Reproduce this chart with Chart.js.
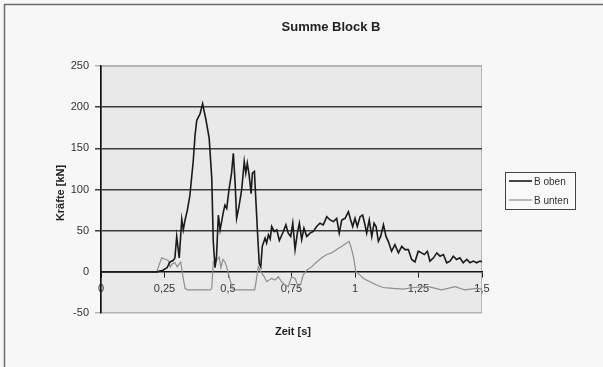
<!DOCTYPE html>
<html>
<head>
<meta charset="utf-8">
<script src="https://cdn.jsdelivr.net/npm/chart.js@4/dist/chart.umd.min.js"></script>
<style>
  html, body { margin: 0; padding: 0; background: #f7f7f7; }
  #wrap { width: 603px; height: 367px; position: relative; }
</style>
</head>
<body>
<div id="wrap"><canvas id="myChart" width="603" height="367"></canvas></div>
<script>
// Werte (Zeit in s, Kraft in kN)
const zeitOben = [0, 0.22, 0.244, 0.26, 0.272, 0.285, 0.291, 0.298, 0.308, 0.318, 0.324, 0.331, 0.34, 0.35, 0.363,
  0.37, 0.377, 0.39, 0.40, 0.413, 0.426, 0.436, 0.442, 0.449, 0.455, 0.462, 0.469, 0.482, 0.488, 0.495,
  0.504, 0.514, 0.521, 0.528, 0.534, 0.543, 0.554, 0.564, 0.57, 0.576, 0.583, 0.591, 0.596, 0.604, 0.609,
  0.617, 0.623, 0.629, 0.635, 0.646, 0.652, 0.659, 0.666, 0.672, 0.682, 0.692, 0.702, 0.718, 0.728, 0.737,
  0.747, 0.755, 0.764, 0.773, 0.781, 0.79, 0.799, 0.81, 0.823, 0.836, 0.849, 0.862, 0.875, 0.889, 0.902,
  0.915, 0.928, 0.938, 0.948, 0.961, 0.974, 0.983, 0.991, 1.0, 1.009, 1.02, 1.03, 1.038, 1.046, 1.056,
  1.066, 1.075, 1.083, 1.092, 1.101, 1.112, 1.122, 1.131, 1.144, 1.157, 1.171, 1.184, 1.197, 1.21, 1.223,
  1.236, 1.249, 1.262, 1.273, 1.285, 1.295, 1.309, 1.322, 1.335, 1.348, 1.361, 1.374, 1.387, 1.40, 1.413,
  1.426, 1.44, 1.453, 1.466, 1.479, 1.492, 1.5];
const kraftOben = [0, 0, 2, 5, 12, 14, 17, 43, 17, 64, 51, 63, 75, 93, 134,
  165, 184, 192, 204, 185, 162, 114, 37, 5, 20, 69, 51, 73, 81, 77,
  100, 120, 144, 108, 65, 79, 100, 134, 120, 132, 118, 95, 120, 122, 91,
  43, 10, 6, 31, 41, 35, 45, 40, 55, 49, 51, 38, 49, 57, 47,
  43, 59, 27, 47, 59, 39, 53, 43, 47, 49, 55, 59, 57, 67, 63,
  61, 65, 47, 63, 65, 73, 63, 55, 65, 55, 67, 69, 59, 47, 63,
  43, 59, 55, 37, 43, 57, 43, 37, 25, 33, 23, 31, 27, 27, 15,
  12, 25, 23, 21, 25, 13, 17, 23, 19, 21, 11, 13, 19, 15, 17,
  11, 15, 11, 13, 11, 13, 12];

const zeitUnten = [0, 0.219, 0.239, 0.255, 0.264, 0.272, 0.282, 0.291, 0.30, 0.314, 0.322, 0.331, 0.34, 0.43,
  0.436, 0.442, 0.45, 0.458, 0.465, 0.472, 0.48, 0.488, 0.495, 0.508, 0.521, 0.605, 0.609, 0.619, 0.633,
  0.643, 0.652, 0.662, 0.672, 0.685, 0.698, 0.711, 0.724, 0.737, 0.75, 0.764, 0.777, 0.787, 0.796, 0.81,
  0.829, 0.849, 0.869, 0.889, 0.908, 0.928, 0.948, 0.967, 0.977, 0.987, 0.996, 1.003, 1.02, 1.033, 1.059,
  1.085, 1.11, 1.15, 1.19, 1.23, 1.289, 1.341, 1.394, 1.433, 1.479, 1.5];
const kraftUnten = [0, 0, 17, 15, 14, 6, 10, 11, 6, 12, -5, -20, -22, -22,
  -20, 12, 10, 15, 18, 5, 15, 12, 6, -10, -22, -22, -15, 6, -2,
  -6, -12, -10, -8, -10, -6, -12, -16, -18, -6, -8, -18, -14, -4, 2,
  6, 12, 17, 21, 23, 27, 31, 35, 37, 27, 15, 0, -4, -8, -12,
  -16, -19, -20, -21, -19, -18, -22, -18, -22, -20, -21];

const yTicks = [-50, 0, 50, 100, 150, 200, 250];
const xTicks = [0, 0.25, 0.5, 0.75, 1, 1.25, 1.5];

const FONT = '"Liberation Sans", Arial, sans-serif';

function toPoints(xs, ys) {
    return xs.map(function(x, i) { return { x: x, y: ys[i] }; });
}

// Hintergrund, Rahmen, Titel, Achsentitel, Legende
const extras = {
    id: 'extras',
    beforeDraw: function(chart) {
        const ctx = chart.ctx;
        const a = chart.chartArea;
        ctx.save();
        ctx.fillStyle = '#f7f7f7';
        ctx.fillRect(0, 0, chart.width, chart.height);
        ctx.fillStyle = '#e9e9e9';
        ctx.fillRect(a.left, a.top, a.right - a.left, a.bottom - a.top);
        ctx.strokeStyle = '#b4b4b4';
        ctx.lineWidth = 1;
        ctx.strokeRect(a.left + 0.5, a.top + 0.5, a.right - a.left - 1, a.bottom - a.top - 1);
        ctx.restore();
    },
    afterDraw: function(chart) {
        const ctx = chart.ctx;
        ctx.save();
        // äußerer Rahmen
        ctx.strokeStyle = '#6a6a6a';
        ctx.lineWidth = 1.5;
        ctx.beginPath();
        ctx.moveTo(4.5, chart.height);
        ctx.lineTo(4.5, 4.5);
        ctx.lineTo(chart.width, 4.5);
        ctx.stroke();

        ctx.fillStyle = '#222';
        ctx.textAlign = 'center';
        ctx.textBaseline = 'middle';
        ctx.font = 'bold 13px ' + FONT;
        ctx.fillText('Summe Block B', 331, 27);
        ctx.font = 'bold 11px ' + FONT;
        ctx.fillText('Zeit [s]', 293, 332);
        ctx.save();
        ctx.translate(61, 193);
        ctx.rotate(-Math.PI / 2);
        ctx.fillText('Kräfte [kN]', 0, 0);
        ctx.restore();

        // Legende
        ctx.fillStyle = '#f9f9f9';
        ctx.fillRect(505, 172, 70, 37);
        ctx.strokeStyle = '#444';
        ctx.lineWidth = 1;
        ctx.strokeRect(505.5, 172.5, 70, 37);
        const ds = chart.data.datasets;
        const rows = [181, 200];
        ctx.font = '10px ' + FONT;
        ctx.textAlign = 'left';
        for (let i = 0; i < ds.length; i++) {
            ctx.strokeStyle = ds[i].borderColor;
            ctx.lineWidth = ds[i].borderWidth;
            ctx.beginPath();
            ctx.moveTo(509, rows[i]);
            ctx.lineTo(532, rows[i]);
            ctx.stroke();
            ctx.fillStyle = '#333';
            ctx.fillText(ds[i].label, 534, rows[i] + 1);
        }
        ctx.restore();
    }
};

const ctx = document.getElementById('myChart').getContext('2d');
const myChart = new Chart(ctx, {
    type: 'line',
    data: {
        datasets: [{
            label: 'B oben',
            data: toPoints(zeitOben, kraftOben),
            borderColor: '#1a1a1a',
            borderWidth: 1.6,
            pointRadius: 0,
            tension: 0
        }, {
            label: 'B unten',
            data: toPoints(zeitUnten, kraftUnten),
            borderColor: '#8e8e8e',
            borderWidth: 1.2,
            pointRadius: 0,
            tension: 0
        }]
    },
    options: {
        responsive: false,
        animation: false,
        layout: { padding: { left: 0, right: 121, top: 66, bottom: 54 } },
        plugins: {
            legend: { display: false },
            title: { display: false },
            tooltip: { enabled: false }
        },
        scales: {
            x: {
                type: 'linear',
                position: { y: 0 },
                min: 0,
                max: 1.5,
                afterBuildTicks: function(scale) {
                    scale.ticks = xTicks.map(function(v) { return { value: v }; });
                },
                ticks: {
                    color: '#333',
                    font: { family: FONT, size: 11 },
                    padding: 6,
                    maxRotation: 0,
                    callback: function(v) { return String(v).replace('.', ','); }
                },
                grid: { drawOnChartArea: false, tickLength: 5, color: '#222', lineWidth: 1 },
                border: { color: '#111', width: 1.6 }
            },
            y: {
                min: -50,
                max: 250,
                afterBuildTicks: function(scale) {
                    scale.ticks = yTicks.map(function(v) { return { value: v }; });
                },
                afterFit: function(scale) { scale.width = 101; },
                ticks: {
                    color: '#333',
                    font: { family: FONT, size: 11 },
                    padding: 6
                },
                grid: {
                    tickLength: 6,
                    color: function(c) {
                        const v = c.tick ? c.tick.value : 0;
                        if (v === 250 || v === -50) return '#b4b4b4';
                        if (v === 0) return 'rgba(0,0,0,0)';
                        return '#3c3c3c';
                    },
                    lineWidth: 1.5
                },
                border: { color: '#111', width: 1.6 }
            }
        }
    },
    plugins: [extras]
});
</script>
</body>
</html>
